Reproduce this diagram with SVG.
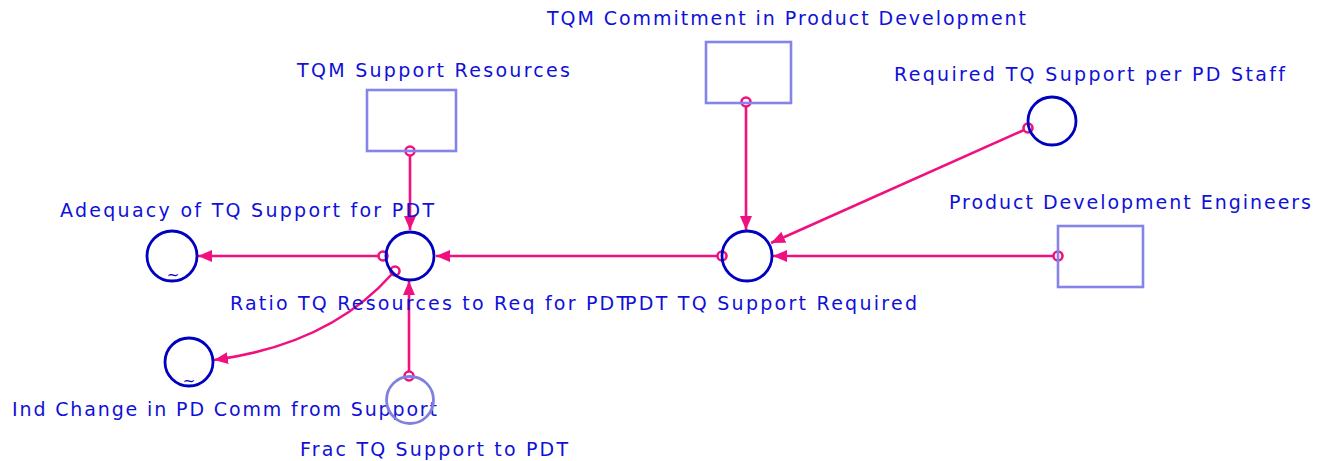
<svg xmlns="http://www.w3.org/2000/svg" width="1327" height="461" viewBox="0 0 1327 461">
<style>
.lbl{font-family:"DejaVu Sans",Verdana,sans-serif;font-size:19px;fill:#1010d8;font-variant-ligatures:none}
.aux{fill:none;stroke:#0000c0;stroke-width:2.8}
.auxl{fill:none;stroke:#8080e0;stroke-width:2.8}
.lvl{fill:none;stroke:#8484ea;stroke-width:2.6}
.lnk{fill:none;stroke:#f0107f;stroke-width:2.6}
.org{fill:none;stroke:#f0107f;stroke-width:2.6}
.tl{font-family:"DejaVu Sans",sans-serif;font-size:15px;fill:#0000c0}
</style>
<defs>
<marker id="ah" viewBox="0 0 14 12" refX="14" refY="6" markerWidth="14" markerHeight="12" markerUnits="userSpaceOnUse" orient="auto">
<path d="M0,0 L14,6 L0,12 Z" fill="#f0107f"/>
</marker>
</defs>
<rect width="1327" height="461" fill="#ffffff"/>
<g id="connectors">
<path class="lnk" d="M410,155 L410,230" marker-end="url(#ah)"/>
<path class="lnk" d="M746,106 L746,230" marker-end="url(#ah)"/>
<path class="lnk" d="M1024,130 L771,243" marker-end="url(#ah)"/>
<path class="lnk" d="M1054,256 L773,256" marker-end="url(#ah)"/>
<path class="lnk" d="M718,256 L436,256" marker-end="url(#ah)"/>
<path class="lnk" d="M379,256 L198,256" marker-end="url(#ah)"/>
<path class="lnk" d="M392,274 Q329.5,344.5 214,360" marker-end="url(#ah)"/>
<path class="lnk" d="M409,372 L409,281" marker-end="url(#ah)"/>
<circle class="org" cx="410" cy="151" r="4.5"/>
<circle class="org" cx="746" cy="102" r="4.5"/>
<circle class="org" cx="1028" cy="128" r="4.5"/>
<circle class="org" cx="1058" cy="256" r="4.5"/>
<circle class="org" cx="722" cy="256" r="4.5"/>
<circle class="org" cx="383" cy="256" r="4.5"/>
<circle class="org" cx="395" cy="271" r="4.5"/>
<circle class="org" cx="409" cy="376" r="4.5"/>
</g>
<g id="tqm-support-resources">
<rect class="lvl" x="367" y="90" width="89" height="61"/>
<text class="lbl" x="297" y="77" textLength="273" lengthAdjust="spacing">TQM Support Resources</text>
</g>
<g id="tqm-commitment">
<rect class="lvl" x="706" y="42" width="85" height="61"/>
<text class="lbl" x="547" y="25" textLength="479" lengthAdjust="spacing">TQM Commitment in Product Development</text>
</g>
<g id="required-tq-support">
<circle class="aux" cx="1052" cy="121" r="24"/>
<text class="lbl" x="894" y="81" textLength="391" lengthAdjust="spacing">Required TQ Support per PD Staff</text>
</g>
<g id="product-development-engineers">
<rect class="lvl" x="1058" y="226" width="85" height="61"/>
<text class="lbl" x="949" y="209" textLength="362" lengthAdjust="spacing">Product Development Engineers</text>
</g>
<g id="pdt-tq-support-required">
<circle class="aux" cx="747" cy="256" r="25"/>
<text class="lbl" x="625" y="310" textLength="292" lengthAdjust="spacing">PDT TQ Support Required</text>
</g>
<g id="ratio-tq-resources">
<circle class="aux" cx="410" cy="256" r="24"/>
<text class="lbl" x="230" y="310" textLength="398" lengthAdjust="spacing">Ratio TQ Resources to Req for PDT</text>
</g>
<g id="adequacy-of-tq-support">
<circle class="aux" cx="172" cy="256" r="25"/>
<text class="tl" x="173" y="280" text-anchor="middle">~</text>
<text class="lbl" x="60" y="217" textLength="374" lengthAdjust="spacing">Adequacy of TQ Support for PDT</text>
</g>
<g id="ind-change-in-pd-comm">
<circle class="aux" cx="189" cy="362" r="24"/>
<text class="tl" x="189" y="386" text-anchor="middle">~</text>
<text class="lbl" x="12" y="416" textLength="425" lengthAdjust="spacing">Ind Change in PD Comm from Support</text>
</g>
<g id="frac-tq-support">
<circle class="auxl" cx="410" cy="400" r="23.5"/>
<text class="lbl" x="300" y="456" textLength="268" lengthAdjust="spacing">Frac TQ Support to PDT</text>
</g>
</svg>
